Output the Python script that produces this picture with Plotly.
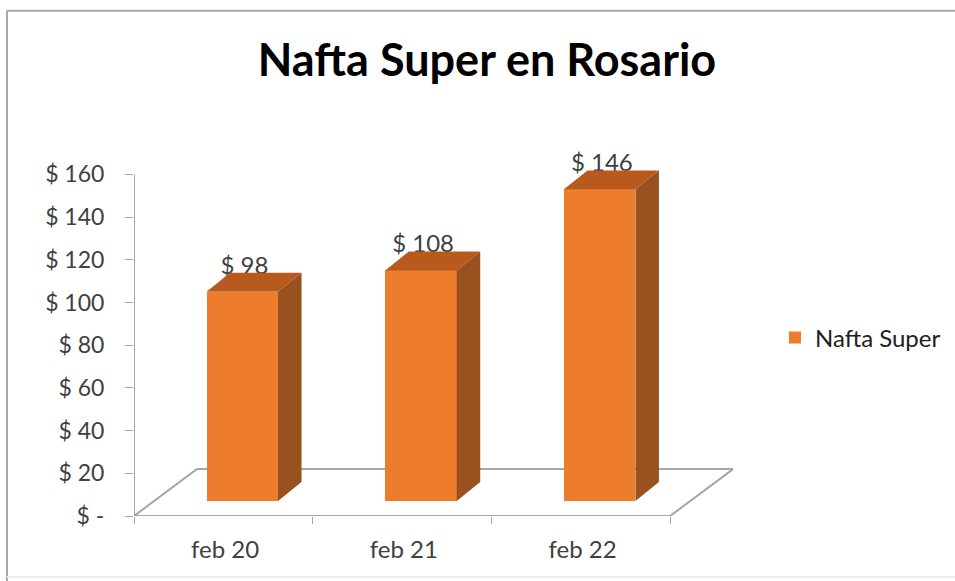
import plotly.graph_objects as go

categories = ["feb 20", "feb 21", "feb 22"]
values = [98, 108, 146]
value_labels = ["$ 98", "$ 108", "$ 146"]
series_name = "Nafta Super"
y_ticks = [0, 20, 40, 60, 80, 100, 120, 140, 160]
y_tick_labels = ["$ -", "$ 20", "$ 40", "$ 60", "$ 80", "$ 100", "$ 120", "$ 140", "$ 160"]
title = "Nafta Super en Rosario"

W, H = 955, 581
L, R, B = 134, 222, 65
axis_top_px = 174
plot_w = W - L - R
px_x = 178.7                                 # px per category
px_y = (H - B - axis_top_px) / y_ticks[-1]   # px per $
y_pad = 18                                   # room above the last tick for the tallest bar's label
T = axis_top_px - y_pad * px_y
plot_h = H - T - B
x_range = [-0.5, -0.5 + plot_w / px_x]

FRONT, TOP, SIDE = "#EE7C2D", "#B85A1E", "#9A5120"
GRID = "#A6A6A6"
FONT = "Lato"

bar_shift = 0.106
bar_w = 0.40
base = 7
dx = 23.5 / px_x
dy = 19 / px_y
floor_dx = 63 / px_x
floor_dy = 47 / px_y

xs = [i + bar_shift for i in range(len(values))]

top_x, top_y, side_x, side_y = [], [], [], []
for x, v in zip(xs, values):
    xl, xr, yt = x - bar_w / 2, x + bar_w / 2, base + v
    top_x += [xl, xr, xr + dx, xl + dx, xl, None]
    top_y += [yt, yt, yt + dy, yt + dy, yt, None]
    side_x += [xr, xr + dx, xr + dx, xr, xr, None]
    side_y += [base, base + dy, yt + dy, yt, base, None]

x_end = len(categories) - 0.5
fig = go.Figure()

# floor (drawn on the lower x axis)
fig.add_trace(go.Scatter(
    x=[-0.5, -0.5 + floor_dx, x_end + floor_dx, x_end, -0.5],
    y=[0, floor_dy, floor_dy, 0, 0],
    mode="lines", line=dict(color=GRID, width=2), showlegend=False,
    hoverinfo="skip", cliponaxis=False, xaxis="x", yaxis="y"))

# value axis line, stopping at the last tick
fig.add_trace(go.Scatter(
    x=[-0.5, -0.5], y=[y_ticks[0], y_ticks[-1]],
    mode="lines", line=dict(color=GRID, width=2), showlegend=False,
    hoverinfo="skip", cliponaxis=False, xaxis="x", yaxis="y"))

# bar fronts
fig.add_trace(go.Bar(
    x=xs, y=values, base=base, width=bar_w, name=series_name,
    marker=dict(color=FRONT, line=dict(width=0)), xaxis="x2", yaxis="y"))

# data labels, partly covered by the top faces
fig.add_trace(go.Scatter(
    x=[x + 0.012 for x in xs], y=[base + v + 11.3 for v in values],
    text=value_labels, mode="text", textposition="middle center",
    textfont=dict(family=FONT, size=24, color="#404040"), showlegend=False,
    xaxis="x2", yaxis="y"))

for fx, fy, col in ((top_x, top_y, TOP), (side_x, side_y, SIDE)):
    fig.add_trace(go.Scatter(
        x=fx, y=fy, mode="lines", fill="toself", fillcolor=col,
        line=dict(width=0, color=col), showlegend=False, hoverinfo="skip",
        xaxis="x2", yaxis="y"))

frame = dict(type="line", xref="paper", yref="paper", line=dict(color="#A8A8A8", width=2))
def fx_(p): return (p - L) / plot_w
def fy_(p): return 1 - (p - T) / plot_h

fig.update_layout(
    width=W, height=H,
    margin=dict(l=L, r=R, t=T, b=B, autoexpand=False),
    paper_bgcolor="white", plot_bgcolor="rgba(0,0,0,0)",
    bargap=0,
    title=dict(text=f"<b>{title}</b>", x=487 / W, xanchor="center", xref="container",
               y=1 - 60 / H, yanchor="middle", yref="container",
               font=dict(family=FONT, size=45, color="#000000")),
    xaxis=dict(range=x_range, showgrid=False, zeroline=False, showline=False,
               tickmode="array", tickvals=[i - 0.5 for i in range(len(categories) + 1)],
               ticks="outside", ticklen=7, tickwidth=1, tickcolor=GRID, showticklabels=False),
    xaxis2=dict(range=x_range, overlaying="x", anchor="y", side="bottom", showgrid=False,
                zeroline=False, showline=False, tickmode="array",
                tickvals=[i + 0.01 for i in range(len(categories))], ticktext=categories, ticks="",
                ticklabelstandoff=17, tickfont=dict(family=FONT, size=24, color="#404040")),
    yaxis=dict(range=[0, y_ticks[-1] + y_pad], showgrid=False, zeroline=False, showline=False,
               tickmode="array", tickvals=y_ticks, ticktext=y_tick_labels,
               ticks="outside", ticklen=8, tickwidth=1, tickcolor=GRID, ticklabelstandoff=16,
               tickfont=dict(family=FONT, size=23, color="#404040")),
    legend=dict(x=775 / W, xref="container", y=1 - 338 / H, yref="container", xanchor="left", yanchor="middle",
                bgcolor="rgba(0,0,0,0)", itemwidth=30, font=dict(family=FONT, size=24, color="#202020")),
    showlegend=True,
    shapes=[
        dict(frame, x0=fx_(7), x1=fx_(955), y0=fy_(10), y1=fy_(10)),
        dict(frame, x0=fx_(7), x1=fx_(7), y0=fy_(10), y1=fy_(581)),
        dict(type="line", xref="paper", yref="paper", x0=fx_(7), x1=fx_(955), y0=fy_(577), y1=fy_(577),
             line=dict(color="#EDEDED", width=2)),
    ],
)

fig.write_html("out.html", config={"displayModeBar": False},
               post_script="document.body.style.margin='0';document.body.style.overflow='hidden';")
